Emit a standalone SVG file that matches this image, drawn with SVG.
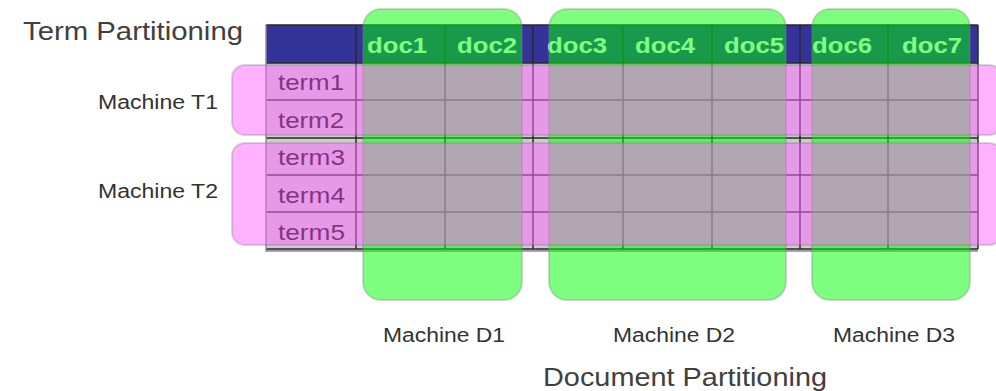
<svg xmlns="http://www.w3.org/2000/svg" width="996" height="391" viewBox="0 0 996 391">
  <style>
    text { font-family: "Liberation Sans", Arial, sans-serif; }
    .head { fill: #333399; }
    .body { fill: #cccccc; }
    .grid { fill: none; stroke: #2a2a2a; stroke-width: 1.5; }
    .edge { fill: none; stroke: #8a8a9a; stroke-width: 1.5; }
    .doc { fill: #ffffff; font-size: 22px; font-weight: bold; }
    .term { fill: #000000; font-size: 22px; }
    .dpart { fill: #00ff00; fill-opacity: 0.5; stroke: #7a7a7a; stroke-opacity: 0.3; stroke-width: 2; }
    .tpart { fill: #ff66ff; fill-opacity: 0.5; stroke: #7a7a7a; stroke-opacity: 0.3; stroke-width: 2; }
    .mlabel { fill: #333333; font-size: 20px; }
    .title { fill: #404040; font-size: 25px; }
  </style>

  <!-- term/document matrix -->
  <g id="matrix">
    <rect class="head" x="266" y="25" width="712" height="38"/>
    <rect class="body" x="266" y="63" width="712" height="188"/>
    <path class="grid" d="M266 25H978 M266 63H978 M266 100H978 M266 138H978 M266 175H978 M266 212H978 M266 249H978"/>
    <path class="grid" d="M356 25V249 M445 25V249 M533 25V249 M623 25V249 M712 25V249 M800 25V249 M888 25V249 M978 25V249"/>
    <path class="edge" d="M266 25V251 H978"/>
    <text class="doc" x="367" y="53" textLength="60" lengthAdjust="spacingAndGlyphs">doc1</text>
    <text class="doc" x="457" y="53" textLength="60" lengthAdjust="spacingAndGlyphs">doc2</text>
    <text class="doc" x="547" y="53" textLength="60" lengthAdjust="spacingAndGlyphs">doc3</text>
    <text class="doc" x="635" y="53" textLength="60" lengthAdjust="spacingAndGlyphs">doc4</text>
    <text class="doc" x="724" y="53" textLength="60" lengthAdjust="spacingAndGlyphs">doc5</text>
    <text class="doc" x="812" y="53" textLength="60" lengthAdjust="spacingAndGlyphs">doc6</text>
    <text class="doc" x="902" y="53" textLength="60" lengthAdjust="spacingAndGlyphs">doc7</text>
    <text class="term" x="278" y="90" textLength="66" lengthAdjust="spacingAndGlyphs">term1</text>
    <text class="term" x="278" y="128" textLength="66" lengthAdjust="spacingAndGlyphs">term2</text>
    <text class="term" x="278" y="165" textLength="67" lengthAdjust="spacingAndGlyphs">term3</text>
    <text class="term" x="278" y="203" textLength="67" lengthAdjust="spacingAndGlyphs">term4</text>
    <text class="term" x="278" y="240" textLength="67" lengthAdjust="spacingAndGlyphs">term5</text>
  </g>

  <!-- document partitions (columns) -->
  <g id="machine-d1">
    <rect class="dpart" x="363" y="9" width="159" height="291" rx="18"/>
    <text class="mlabel" x="383" y="342" textLength="122" lengthAdjust="spacingAndGlyphs">Machine D1</text>
  </g>
  <g id="machine-d2">
    <rect class="dpart" x="549" y="9" width="237" height="291" rx="18"/>
    <text class="mlabel" x="613" y="342" textLength="122" lengthAdjust="spacingAndGlyphs">Machine D2</text>
  </g>
  <g id="machine-d3">
    <rect class="dpart" x="812" y="9" width="158" height="291" rx="18"/>
    <text class="mlabel" x="833" y="342" textLength="122" lengthAdjust="spacingAndGlyphs">Machine D3</text>
  </g>

  <!-- term partitions (rows) -->
  <g id="machine-t1">
    <rect class="tpart" x="232" y="65" width="770" height="70" rx="13"/>
    <text class="mlabel" x="98" y="109" textLength="120" lengthAdjust="spacingAndGlyphs">Machine T1</text>
  </g>
  <g id="machine-t2">
    <rect class="tpart" x="232" y="143" width="770" height="102" rx="13"/>
    <text class="mlabel" x="98" y="198" textLength="120" lengthAdjust="spacingAndGlyphs">Machine T2</text>
  </g>

  <!-- axis titles -->
  <g id="titles">
    <text class="title" x="23" y="40" textLength="220" lengthAdjust="spacingAndGlyphs">Term Partitioning</text>
    <text class="title" x="543" y="386" textLength="284" lengthAdjust="spacingAndGlyphs">Document Partitioning</text>
  </g>
</svg>
